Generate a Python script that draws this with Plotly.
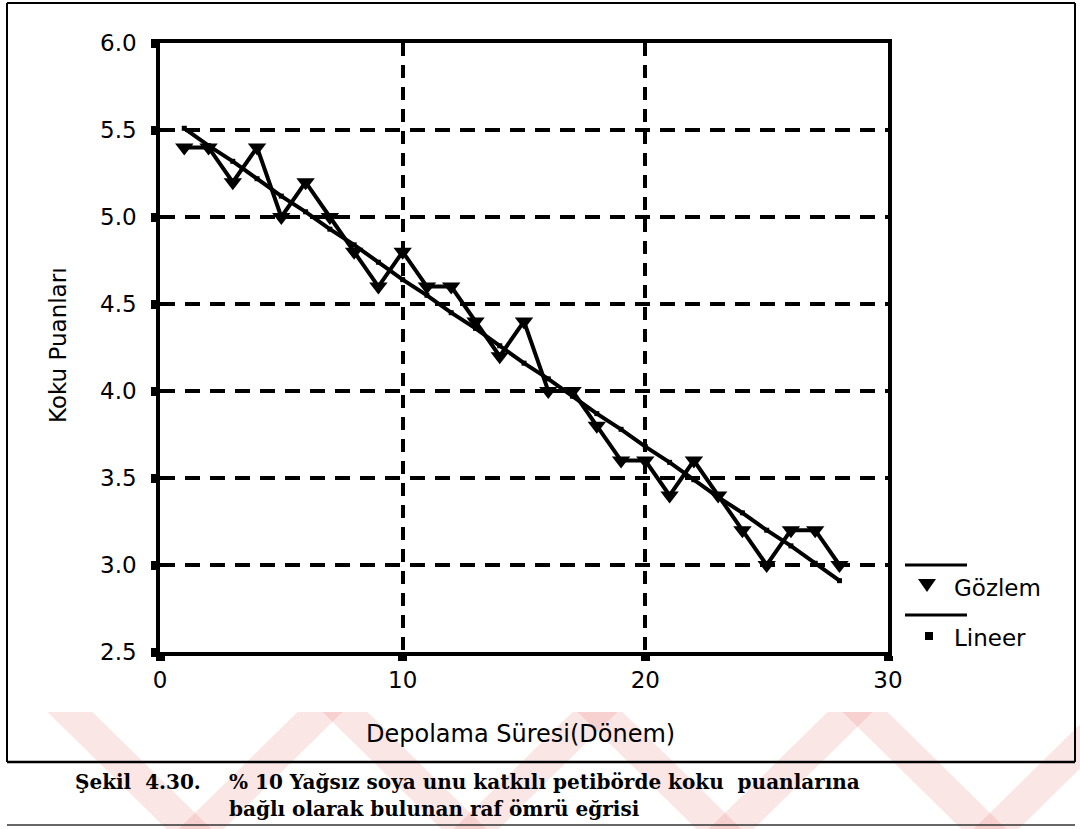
import plotly.graph_objects as go

# Storage period (Dönem) and odour scores
periods = list(range(1, 29))
gozlem = [5.4, 5.4, 5.2, 5.4, 5.0, 5.2, 5.0, 4.8, 4.6, 4.8,
          4.6, 4.6, 4.4, 4.2, 4.4, 4.0, 4.0, 3.8, 3.6, 3.6,
          3.4, 3.6, 3.4, 3.2, 3.0, 3.2, 3.2, 3.0]
lineer = [5.51, 5.41, 5.32, 5.22, 5.12, 5.03, 4.93, 4.84, 4.74, 4.64,
          4.55, 4.45, 4.36, 4.26, 4.16, 4.07, 3.97, 3.87, 3.78, 3.68,
          3.59, 3.49, 3.39, 3.30, 3.20, 3.11, 3.01, 2.91]
x_ticks = [0, 10, 20, 30]
y_ticks = [2.5, 3.0, 3.5, 4.0, 4.5, 5.0, 5.5, 6.0]

W, H = 1080, 829
L, R, T, B = 160, 888, 43, 652   # plot area in pixels


def px(x):
    return (x - L) / (R - L)


def py(y):
    return (B - y) / (B - T)


SANS = "DejaVu Sans"
SERIF = "DejaVu Serif"

fig = go.Figure()
fig.add_trace(go.Scatter(
    x=periods, y=lineer, mode="lines+markers", name="Lineer",
    line=dict(color="black", width=4),
    marker=dict(symbol="square", size=5, color="black"),
    showlegend=False))
fig.add_trace(go.Scatter(
    x=periods, y=gozlem, mode="lines+markers", name="Gözlem",
    line=dict(color="black", width=4),
    marker=dict(symbol="triangle-down", size=16, color="black"),
    showlegend=False))

axis_common = dict(
    showgrid=True, gridcolor="black", gridwidth=3.5,
    showline=True, linecolor="black", linewidth=3.5, mirror=True,
    ticks="outside", ticklen=5, tickwidth=9, tickcolor="black",
    zeroline=False,
    tickfont=dict(family=SANS, size=23, color="black"),
)
fig.update_xaxes(range=[0, 30], tickvals=x_ticks, griddash="13px,9px",
                 ticklabelstandoff=0, **axis_common)
fig.update_yaxes(range=[2.5, 6.0], tickvals=y_ticks, tickformat=".1f",
                 griddash="15px,10px", ticklabelstandoff=10, **axis_common)

shapes = []


def seg(x0, y0, x1, y1, w=2, color="black"):
    shapes.append(dict(type="line", xref="paper", yref="paper",
                       x0=px(x0), y0=py(y0), x1=px(x1), y1=py(y1),
                       line=dict(color=color, width=w), layer="above"))


def poly(points, color, layer="above"):
    path = "M " + " L ".join(f"{px(a):.5f},{py(b):.5f}" for a, b in points) + " Z"
    shapes.append(dict(type="path", xref="paper", yref="paper", path=path,
                       fillcolor=color, line=dict(width=0), layer=layer))


# faint red chevron watermark
pink = "rgba(230,80,80,0.14)"
for c in [195, 470, 725, 990]:
    top, bot, half, band = 712, 835, 125, 45
    poly([(c - half - band / 2, top), (c - half + band / 2, top),
          (c + band / 2, bot), (c - band / 2, bot)], pink, "below")
    poly([(c + half - band / 2, top), (c + half + band / 2, top),
          (c + band / 2, bot), (c - band / 2, bot)], pink, "below")

# page frame and caption rules
seg(7, 3, 1075, 3, 2)
seg(7, 3, 7, 762, 2)
seg(1075, 3, 1075, 762, 2)
seg(7, 762, 1075, 762, 2.5)
seg(7, 825, 1075, 825, 1.5, "#333333")

# legend
seg(905, 565, 967, 565, 3)
poly([(918, 579), (936, 579), (927, 592)], "black")
seg(905, 615, 967, 615, 3)
poly([(925, 632), (933, 632), (933, 640), (925, 640)], "black")

annotations = [
    dict(text="Gözlem", x=px(952), y=py(588), xanchor="left", yanchor="middle",
         font=dict(family=SANS, size=23, color="black")),
    dict(text="Lineer", x=px(952), y=py(638), xanchor="left", yanchor="middle",
         font=dict(family=SANS, size=23, color="black")),
    dict(text="Depolama Süresi(Dönem)", x=px(520), y=py(734),
         xanchor="center", yanchor="middle",
         font=dict(family=SANS, size=24, color="black")),
    dict(text="Koku Puanları", x=px(58), y=py(345), textangle=-90,
         xanchor="center", yanchor="middle",
         font=dict(family=SANS, size=23, color="black")),
    dict(text="<b>Şekil\u00a0 4.30.</b>", x=px(73), y=py(782),
         xanchor="left", yanchor="middle",
         font=dict(family=SERIF, size=20, color="black")),
    dict(text="<b>% 10 Yağsız soya unu katkılı petibörde koku\u00a0 puanlarına</b>",
         x=px(227), y=py(782), xanchor="left", yanchor="middle",
         font=dict(family=SERIF, size=20, color="black")),
    dict(text="<b>bağlı olarak bulunan raf ömrü eğrisi</b>",
         x=px(227), y=py(809), xanchor="left", yanchor="middle",
         font=dict(family=SERIF, size=20, color="black")),
]
for a in annotations:
    a.update(xref="paper", yref="paper", showarrow=False)

fig.update_layout(
    width=W, height=H,
    margin=dict(l=L, r=W - R, t=T, b=H - B, pad=0),
    paper_bgcolor="white", plot_bgcolor="white",
    shapes=shapes, annotations=annotations,
)

fig.write_html("out.html")
